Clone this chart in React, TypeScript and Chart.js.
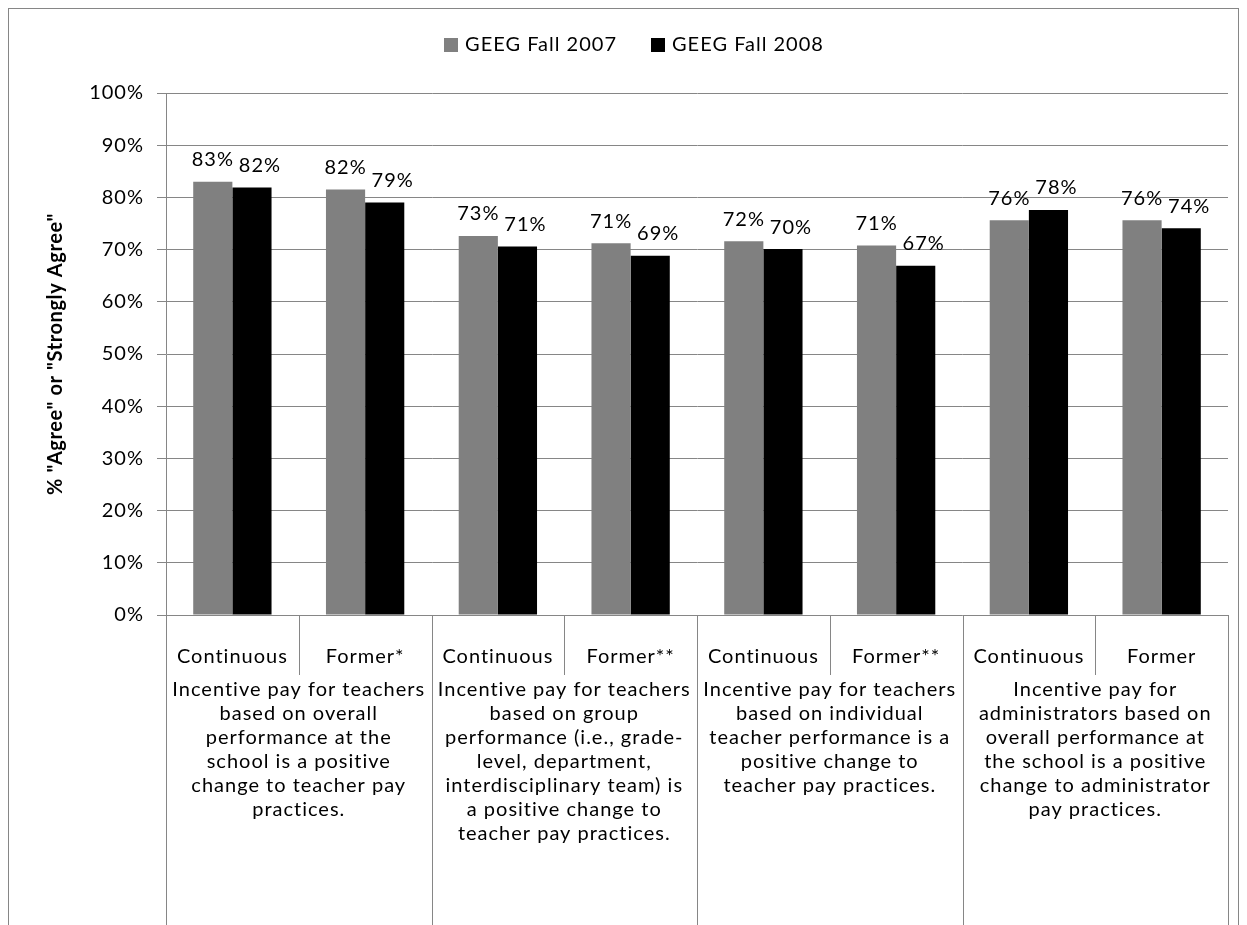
import React, { useEffect, useRef } from "react";
import { Chart, registerables } from "chart.js";

Chart.register(...registerables);

const subCategories = ["Continuous", "Former*", "Continuous", "Former**", "Continuous", "Former**", "Continuous", "Former"];
const groupLabels: string[][] = [
  ["Incentive pay for teachers", "based on overall", "performance at the", "school is a positive", "change to teacher pay", "practices."],
  ["Incentive pay for teachers", "based on group", "performance (i.e., grade-", "level, department,", "interdisciplinary team) is", "a positive change to", "teacher pay practices."],
  ["Incentive pay for teachers", "based on individual", "teacher performance is a", "positive change to", "teacher pay practices."],
  ["Incentive pay for", "administrators based on", "overall performance at", "the school is a positive", "change to administrator", "pay practices."],
];
const fall2007 = [83.0, 81.5, 72.6, 71.2, 71.6, 70.8, 75.6, 75.6];
const fall2008 = [81.9, 79.0, 70.6, 68.8, 70.1, 66.9, 77.6, 74.1];
const seriesNames = ["GEEG Fall 2007", "GEEG Fall 2008"];
const seriesColors = ["#808080", "#000000"];
const yTitle = '% "Agree" or "Strongly Agree"';

const FONT = "Lato, 'Open Sans', sans-serif";
const FS = 20;
const SPACING = "1px";
const LINE = "#868686";
const CW = 1229;
const CH = 930;

const overlay = {
  id: "overlay",
  beforeDraw(chart: any) {
    (chart.ctx as any).letterSpacing = SPACING;
  },
  afterDraw(chart: any) {
    const ctx = chart.ctx as CanvasRenderingContext2D;
    const area = chart.chartArea;
    const n = subCategories.length;
    const catW = (area.right - area.left) / n;
    ctx.save();
    (ctx as any).letterSpacing = SPACING;
    // data labels
    ctx.fillStyle = "#000";
    ctx.font = `${FS}px ${FONT}`;
    ctx.textAlign = "center";
    ctx.textBaseline = "middle";
    chart.data.datasets.forEach((ds: any, di: number) => {
      const meta = chart.getDatasetMeta(di);
      meta.data.forEach((el: any, i: number) => {
        ctx.fillText(Math.round(ds.data[i]) + "%", el.x + (di === 1 ? 8 : 0), el.y - 22);
      });
    });
    // category separators
    ctx.strokeStyle = LINE;
    ctx.lineWidth = 1;
    for (let i = 0; i <= n; i++) {
      const x = Math.round(area.left + i * catW) + 0.5;
      ctx.beginPath();
      ctx.moveTo(x, area.bottom);
      ctx.lineTo(x, i % 2 === 0 ? CH : area.bottom + 60);
      ctx.stroke();
    }
    // sub labels
    subCategories.forEach((s, i) => {
      ctx.fillText(s, area.left + (i + 0.5) * catW, area.bottom + 42);
    });
    // group labels
    groupLabels.forEach((lines, g) => {
      const cx = area.left + (2 * g + 1) * catW;
      lines.forEach((t, li) => {
        ctx.fillText(t, cx, area.bottom + 75 + li * 24);
      });
    });
    // y title
    ctx.save();
    (ctx as any).letterSpacing = "0.6px";
    ctx.translate(47, (area.top + area.bottom) / 2);
    ctx.rotate(-Math.PI / 2);
    ctx.font = `bold ${FS}px ${FONT}`;
    ctx.fillText(yTitle, 0, 0);
    ctx.restore();
    // legend
    ctx.font = `${FS}px ${FONT}`;
    const box = 14, gapT = 7, gapI = 34;
    const widths = seriesNames.map((s) => box + gapT + ctx.measureText(s).width);
    const total = widths[0] + widths[1] + gapI;
    let x = 625 - total / 2;
    const ly = 36;
    ctx.textAlign = "left";
    seriesNames.forEach((s, i) => {
      ctx.fillStyle = seriesColors[i];
      ctx.fillRect(Math.round(x), ly - box / 2, box, box);
      ctx.fillStyle = "#000";
      ctx.fillText(s, x + box + gapT, ly);
      x += widths[i] + gapI;
    });
    ctx.restore();
  },
};

export default function App() {
  const ref = useRef<HTMLCanvasElement>(null);
  useEffect(() => {
    document.documentElement.style.overflow = "hidden";
    const chart = new Chart(ref.current!, {
      type: "bar",
      data: {
        labels: subCategories,
        datasets: [
          { label: seriesNames[0], data: fall2007, backgroundColor: seriesColors[0] },
          { label: seriesNames[1], data: fall2008, backgroundColor: seriesColors[1] },
        ],
      },
      options: {
        animation: false,
        responsive: false,
        devicePixelRatio: 1,
        layout: { padding: { top: 84, right: 10, left: 0, bottom: 0 } },
        datasets: { bar: { categoryPercentage: 0.59, barPercentage: 1 } },
        plugins: { legend: { display: false }, tooltip: { enabled: false } },
        scales: {
          x: {
            grid: { display: false },
            ticks: { display: false },
            border: { display: false },
            afterFit: (s: any) => { s.height = CH - 606; },
          },
          y: {
            min: 0,
            max: 100,
            ticks: {
              stepSize: 10,
              padding: 13,
              color: "#000",
              font: { family: FONT, size: FS },
              callback: (v: any) => v + "%",
            },
            grid: { color: LINE, tickLength: 9, drawTicks: true },
            border: { color: LINE },
            afterFit: (s: any) => { s.width = 157; },
          },
        },
      },
      plugins: [overlay],
    });
    return () => chart.destroy();
  }, []);
  return (
    <div style={{ width: 1229, height: CH, borderLeft: `1px solid ${LINE}`, borderTop: `1px solid ${LINE}`, borderRight: `1px solid ${LINE}`, background: "#fff" }}>
      <canvas ref={ref} width={CW} height={CH} style={{ display: "block", width: CW, height: CH }} />
    </div>
  );
}
